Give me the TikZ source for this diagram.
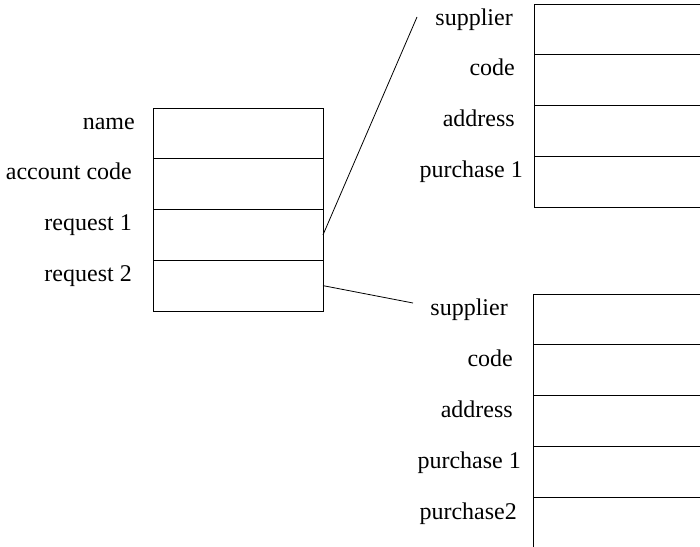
\documentclass[tikz,border=0pt]{standalone}
\usepackage{fontspec}
\setmainfont{Liberation Serif}
\begin{document}
\begin{tikzpicture}[x=1pt,y=-1pt,
  cell/.style={draw=black, line width=0.9pt, minimum width=170pt,
    minimum height=50.75pt, inner sep=0pt, outer sep=0pt},
  wide/.style={cell, minimum width=180pt},
  lbl/.style={anchor=base east, inner sep=0pt, font=\fontsize{24}{28}\selectfont},
  link/.style={draw=black, line width=0.8pt}]
\clip (0,0) rectangle (700,546);
\useasboundingbox (0,0) rectangle (700,546);

% main record
\node[cell] (name)  at (238,133.375) {};
\node[cell] (acc)   at (238,184.125) {};
\node[cell] (req1)  at (238,234.875) {};
\node[cell] (req2)  at (238,285.625) {};
\node[lbl] (lname) at (135,129)    {name};
\node[lbl] (lacc)  at (132,179.75) {account code};
\node[lbl] (lreq1) at (132,230.5)  {request 1};
\node[lbl] (lreq2) at (132,281.25) {request 2};

% first request record
\node[wide] (asup)  at (624,29.4)  {};
\node[wide] (acode) at (624,80.1)  {};
\node[wide] (aaddr) at (624,130.9) {};
\node[wide] (apur1) at (624,181.6) {};
\node[lbl] (lasup)  at (513,25)     {supplier};
\node[lbl] (lacode) at (515,75.75)  {code};
\node[lbl] (laaddr) at (515,126.5)  {address};
\node[lbl] (lapur1) at (523,177.25) {purchase 1};

% second request record
\node[wide] (bsup)  at (623,319.4) {};
\node[wide] (bcode) at (623,370.1) {};
\node[wide] (baddr) at (623,420.9) {};
\node[wide] (bpur1) at (623,471.6) {};
\node[wide] (bpur2) at (623,522.4) {};
\node[lbl] (lbsup)  at (508,315) {supplier};
\node[lbl] (lbcode) at (513,366) {code};
\node[lbl] (lbaddr) at (513,417) {address};
\node[lbl] (lbpur1) at (521,468) {purchase 1};
\node[lbl] (lbpur2) at (517,519) {purchase2};

% links from requests to their records
\coordinate (ta) at (417,17);
\coordinate (tb) at (413,303);
\draw[link] (req1.east) -- (ta);
\draw[link] (req2.east) -- (tb);
\end{tikzpicture}
\end{document}
